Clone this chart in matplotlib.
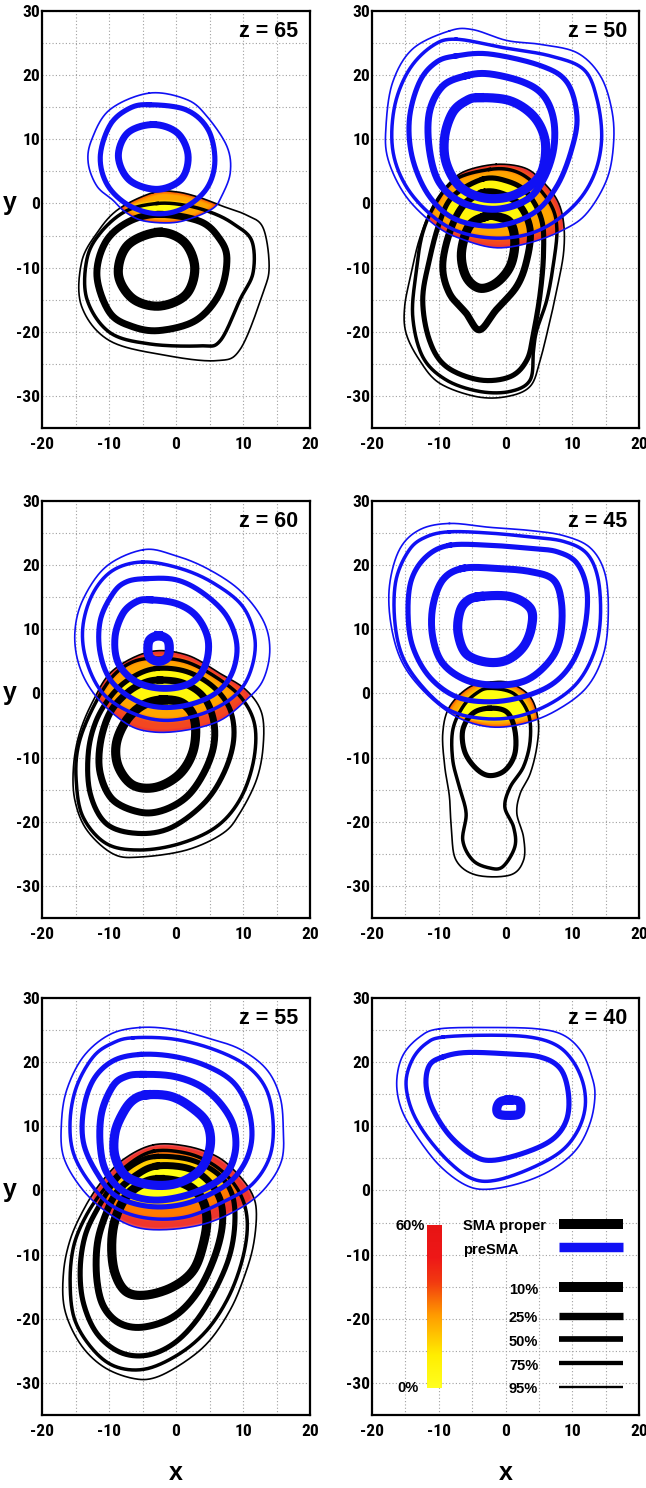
import numpy as np
import matplotlib
matplotlib.use("Agg")
import matplotlib.pyplot as plt
from matplotlib.path import Path
from matplotlib.colors import LinearSegmentedColormap
from matplotlib import font_manager, transforms

# ---------------------------------------------------------------- data
LEVELS = ["10%", "25%", "50%", "75%", "95%"]
PANEL_Z = [65, 50, 60, 45, 55, 40]
X_TICKS = [-20, -10, 0, 10, 20]
Y_TICKS = [30, 20, 10, 0, -10, -20, -30]
COLORBAR_LABELS = ["0%", "60%"]
SERIES_NAMES = ["SMA proper", "preSMA"]

# z = 65
Z65_BLUE_LEVELS = ["95%", "50%", "25%"]
Z65_BLUE = [
    [(-4, 17.2), (1.6, 16.2), (4.6, 13.6), (7.6, 8.9), (8.1, 4.8), (6.8, 1.1), (5.6, -0.7), (2.6, -2.2),
     (-0.6, -3.0), (-4.9, -2.7), (-7.6, -1.3), (-9.4, 0.5), (-11.8, 2.7), (-13.1, 6.3), (-12.6, 9.9), (-9.9, 14.6)],
    [(-4, 15.4), (1.5, 14.6), (4.8, 11.5), (5.8, 6.5), (4.5, 2.2), (1, -0.8), (-3, -1.6), (-7.2, -0.2),
     (-10.3, 3.0), (-11.3, 7.4), (-9.8, 12.3), (-7, 14.8)],
    [(-3.4, 12.3), (0.2, 11.0), (1.8, 7.5), (0.8, 3.8), (-2.8, 2.2), (-6.9, 3.6), (-8.6, 7.3), (-7.2, 11.0)],
]
Z65_BLACK_LEVELS = ["95%", "75%", "25%", "10%"]
Z65_BLACK = [
    [(-3.4, 1.7), (0.1, 1.8), (3.6, 0.9), (6.6, -0.3), (10.5, -1.8), (13, -3.8), (13.9, -9.7), (13, -13.9),
     (9.6, -22.7), (6.1, -24.5), (-1.4, -23.7), (-9.9, -21.4), (-14.1, -16), (-14.1, -9.2), (-11.8, -4.6), (-8.6, -0.9)],
    [(-2.8, 0.0), (1.5, -0.3), (5.5, -1.5), (8.6, -3.2), (11.3, -5.8), (11.5, -10.8), (9.6, -14.9), (6.6, -21.4),
     (3.6, -22.2), (-3.9, -21.9), (-9.9, -20.1), (-13.3, -14.9), (-13.3, -8.7), (-11.3, -4.6), (-7.5, -1.2)],
    [(-2.4, -1.7), (3.6, -2.8), (6.5, -5.5), (7.6, -8.7), (6.5, -14), (3, -18.2), (-2.4, -19.8), (-6.5, -19.2),
     (-9.9, -17), (-11.8, -11.3), (-10.5, -6), (-7, -2.8)],
    [(-2.6, -4.5), (1.2, -6), (2.8, -10), (1.5, -14.2), (-2.5, -16), (-6.5, -14.8), (-8.6, -11), (-7.2, -6.5)],
]

# z = 50
Z50_BLUE_LEVELS = ["95%", "75%", "50%", "25%", "10%"]
Z50_BLUE = [
    [(-8.4, 26.9), (-4.9, 27.1), (0.2, 25.4), (5.2, 24.8), (10.7, 23.5), (14.2, 19.9), (15.9, 14.7), (16.2, 9.5),
     (15.2, 3.8), (12.2, -1.5), (8.7, -4.1), (3.7, -6.1), (-1.4, -6.9), (-6.4, -5.6), (-10.4, -3.5), (-14.9, 1.1),
     (-17.6, 6.9), (-17.9, 12.1), (-16.9, 18.9), (-13.9, 24.1)],
    [(-7.4, 25.6), (-0.4, 24.3), (6.7, 23), (11.7, 20.9), (13.7, 16.3), (14.4, 10), (13.2, 4.3), (10.2, -0.4),
     (5.2, -4.1), (-0.4, -5.4), (-6.4, -4.6), (-10.9, -2), (-14.9, 2.7), (-16.9, 8.4), (-16.6, 15.2), (-14.4, 20.9),
     (-10.9, 24.6)],
    [(-7.4, 23), (-2.4, 23.3), (5.2, 21.5), (9.2, 18.9), (10.7, 13.6), (9.9, 8.4), (7.7, 2.7), (4.2, -1.5),
     (-1.4, -3.5), (-7.4, -2.5), (-11.4, 1.1), (-13.9, 6.9), (-14.4, 13.1), (-12.9, 18.9), (-10.4, 22)],
    [(-5.9, 19.9), (-2.4, 20.2), (2.7, 18.9), (5.7, 16.8), (7.2, 13.1), (7.2, 8.4), (5.7, 3.8), (3.2, 0.6),
     (-1.4, -0.9), (-6.4, 0.1), (-9.9, 3.2), (-11.4, 8.4), (-11.4, 14.2), (-9.4, 18.3)],
    [(-3.9, 16.5), (0.7, 16), (4.2, 13.6), (5.9, 10), (5.7, 5.8), (4.2, 3.2), (0.7, 1.1), (-3.4, 0.9),
     (-6.9, 2.7), (-8.9, 6.4), (-9.1, 10.5), (-7.9, 14.2), (-5.9, 16)],
]
Z50_BLACK_LEVELS = ["95%", "75%", "50%", "25%", "10%"]
Z50_BLACK = [
    [(-1.4, 6.1), (2.7, 5.6), (5.2, 3.8), (7.7, 0.6), (8.7, -3), (8.7, -7.7), (7.7, -13.4), (6.7, -18.1),
     (5.2, -24.4), (3.7, -28.5), (0.2, -30.1), (-4.4, -30.1), (-9.9, -28), (-12.9, -24.4), (-14.9, -20.2),
     (-15.1, -16), (-14.1, -10.8), (-12.9, -5.6), (-10.9, -0.4), (-8.4, 3.2), (-5.9, 5.1)],
    [(-2.4, 5.3), (1.2, 5.1), (4.2, 3.2), (6.9, -0.4), (7.7, -4.1), (7.2, -9.3), (6.2, -15), (4.7, -19.7),
     (4.2, -22.8), (3.7, -27.5), (0.7, -29.3), (-3.9, -29.3), (-8.9, -27.5), (-12.4, -23.9), (-13.9, -17.6),
     (-13.4, -10.8), (-12.4, -4.6), (-10.4, 0.1), (-7.4, 3.8)],
    [(-3.4, 3.8), (0.2, 3.5), (3.2, 1.7), (5.4, -2.5), (5.7, -7.7), (5.2, -14), (4.2, -20.2), (3.2, -24.4),
     (0.7, -27), (-3.9, -27.5), (-8.9, -25.4), (-11.4, -21.3), (-12.4, -15), (-11.4, -8.8), (-9.9, -3), (-7.9, 1.1)],
    [(-3.4, 1.7), (-0.4, 1.4), (2.2, -0.4), (3.7, -4.1), (3.2, -8.8), (1.7, -12.9), (-1.4, -16.6), (-3.9, -19.7),
     (-5.9, -17.1), (-8.4, -14), (-9.4, -9.8), (-8.4, -4.6), (-6.4, -0.4)],
    [(-2.9, -2), (-1.4, -2), (0.7, -3), (1.4, -6.1), (0.7, -9.8), (-1.4, -12.4), (-3.9, -13.2), (-5.9, -11.4),
     (-6.6, -7.7), (-5.4, -3.5)],
]

# z = 60
Z60_BLUE_LEVELS = ["95%", "75%", "50%", "25%", "10%"]
Z60_BLUE = [
    [(-4.9, 22.4), (-0.4, 21.6), (4.6, 19.5), (9.5, 16.1), (13, 11.4), (14, 6.8), (13, 2.1), (10.5, -1),
     (6.6, -4.2), (1.6, -5.7), (-3.4, -6), (-7.4, -4.7), (-11.9, -0.5), (-14.4, 4.2), (-15.1, 9.4), (-13.9, 14.6),
     (-10.4, 19.8)],
    [(-4.9, 20.5), (0.6, 19.5), (5.6, 17.2), (10, 13.5), (11.8, 8.3), (11, 3.1), (8.6, -0.5), (4.1, -3.1),
     (-1.4, -4.2), (-6.4, -3.1), (-10.9, 0), (-13.4, 5.2), (-13.9, 10.4), (-12.4, 15.6), (-9.4, 19.2)],
    [(-4.4, 17.9), (0.1, 17.7), (4.1, 15.6), (7.6, 12), (9.1, 7.3), (8.1, 2.6), (5.1, -0.5), (0.1, -2.1),
     (-4.9, -1.6), (-9.4, 1.6), (-11.3, 6.2), (-11.3, 11.4), (-9.4, 15.6), (-7.4, 17.4)],
    [(-3.9, 14.6), (0.1, 14), (3.1, 12), (4.8, 8.3), (4.3, 4.2), (2.1, 1.6), (-1.9, 0.8), (-5.9, 1.8),
     (-8.6, 4.7), (-9.1, 8.8), (-7.9, 12.5), (-5.9, 14.3)],
    [(-2.6, 9.0), (-1.3, 8.4), (-1.0, 7.0), (-1.3, 5.6), (-2.6, 5.0), (-3.9, 5.6), (-4.2, 7.0), (-3.9, 8.4)],
]
Z60_BLACK_LEVELS = ["95%", "75%", "50%", "25%", "10%"]
Z60_BLACK = [
    [(-3.9, 6.5), (1.6, 6), (6.6, 3.1), (10.5, 0.5), (12.8, -3.1), (13, -8.3), (12, -13.5), (9.5, -18.7),
     (7, -21.8), (1.6, -24.4), (-5.4, -25.5), (-9.4, -25), (-13.3, -21.3), (-15.1, -16.6), (-15.3, -11.4),
     (-14.4, -6.2), (-12.3, -1), (-9.4, 3.6)],
    [(-3.4, 5.5), (1.6, 4.9), (6.6, 2.1), (10, -1), (11.8, -5.2), (11.5, -10.9), (9.5, -16.6), (6, -20.8),
     (0.6, -23.4), (-5.4, -24.4), (-10.4, -23.4), (-13.9, -19.2), (-14.9, -13.5), (-14.6, -8.3), (-12.8, -3.1),
     (-9.9, 2.1), (-6.9, 4.7)],
    [(-2.9, 3.9), (1.6, 3.4), (5.6, 1), (8.1, -2.6), (8.6, -7.3), (7.1, -12.5), (4.1, -17.2), (-0.9, -21.0),
     (-5.9, -21.8), (-10.4, -20.3), (-12.8, -15.6), (-13.1, -9.4), (-11.9, -4.2), (-9.4, 0), (-6.4, 2.6)],
    [(-2.4, 2.1), (1.1, 1.6), (4.1, -0.5), (5.6, -4.2), (5.6, -8.3), (4.1, -12.5), (1.6, -16.1), (-1.9, -18.2),
     (-5.4, -18.5), (-9.4, -16.6), (-11.3, -12.5), (-11.3, -7.8), (-9.9, -3.1), (-7.4, 0), (-4.9, 1.6)],
    [(-1.9, -1), (1.1, -1.6), (2.8, -4.2), (2.6, -8.8), (0.6, -12.5), (-2.9, -14.6), (-6.4, -14.3), (-8.6, -11.4),
     (-8.9, -7.8), (-7.4, -4.2), (-4.9, -1.8)],
]

# z = 45
Z45_BLUE_LEVELS = ["95%", "75%", "50%", "25%", "10%"]
Z45_BLUE = [
    [(-8.4, 26.5), (-2.4, 25.9), (3.7, 25.4), (8.7, 24.6), (12.7, 22.7), (14.9, 18.7), (15.4, 12.5), (14.7, 6.2),
     (12.2, 1), (7.7, -2.6), (2.7, -4.7), (-2.4, -5.2), (-7.4, -3.6), (-11.9, 0), (-15.4, 4.7), (-17.1, 10.4),
     (-17.4, 16.6), (-15.9, 22.4), (-12.9, 25.5)],
    [(-8.4, 25.2), (-2.4, 25), (3.7, 24.4), (8.7, 23.7), (12.2, 21.8), (13.9, 17.7), (14.2, 11.4), (13.2, 6.2),
     (10.7, 1.6), (6.7, -1.6), (1.7, -3.6), (-3.4, -3.9), (-8.4, -2.6), (-12.4, 1), (-15.4, 5.7), (-16.6, 11.4),
     (-16.4, 17.7), (-14.4, 22.4), (-11.9, 24.4)],
    [(-8.4, 23.1), (-2.4, 23.1), (3.7, 22.6), (7.7, 22.1), (10.7, 20.3), (12.2, 16.1), (11.9, 10.4), (10.2, 5.2),
     (7.2, 1.6), (2.7, -0.5), (-2.4, -1.3), (-7.4, -0.5), (-11.4, 2.6), (-13.9, 7.3), (-14.6, 12.5), (-14.1, 17.7),
     (-11.9, 21.3)],
    [(-6.4, 19.5), (-1.4, 19.5), (3.7, 19), (7.2, 17.7), (8.4, 14), (8.2, 8.8), (6.7, 5.2), (3.2, 2.1),
     (-1.4, 1.3), (-5.9, 2.1), (-9.4, 4.7), (-10.9, 8.8), (-10.9, 13.5), (-9.4, 17.7)],
    [(-3.9, 15.1), (0.7, 15.1), (3.7, 13.3), (3.9, 10.4), (2.7, 7.3), (0.2, 5.2), (-2.9, 4.9), (-5.9, 6.2),
     (-7.1, 9.4), (-6.9, 12.5), (-5.9, 14.3)],
]
Z45_BLACK_LEVELS = ["95%", "75%", "50%"]
Z45_BLACK = [
    [(-2.1, 1.8), (0.7, 1.6), (3.7, -0.5), (4.9, -4.2), (4.7, -8.3), (3.7, -12.5), (2.2, -15.6), (1.7, -18.7),
     (2.7, -22.4), (2.7, -26), (0.7, -28.3), (-4.4, -28.3), (-7.4, -26), (-8.1, -21.3), (-8.4, -16.1),
     (-9.1, -11.4), (-9.4, -6.2), (-8.4, -2.1), (-5.4, 1)],
    [(-2.4, 0.8), (1.2, 0), (3.4, -3.1), (3.7, -7.3), (2.7, -11.4), (0.7, -14.6), (-0.1, -17.7), (1.2, -20.8),
     (1.4, -23.9), (-0.4, -27), (-2.4, -27.2), (-4.9, -26), (-6.4, -22.9), (-5.9, -18.7), (-6.9, -14.6),
     (-7.9, -10.4), (-7.9, -5.7), (-6.4, -2.1), (-4.4, 0)],
    [(-2.4, -2.3), (0.2, -2.9), (1.4, -5.7), (1.4, -9.4), (-0.1, -12), (-2.4, -12.8), (-4.4, -11.7),
     (-6.1, -9.1), (-6.4, -5.7), (-4.9, -3.1)],
]

# z = 55
Z55_BLUE_LEVELS = ["95%", "75%", "50%", "25%", "10%"]
Z55_BLUE = [
    [(-5.4, 25.4), (-0.4, 25.1), (4.6, 23.8), (9.6, 22), (13.5, 18.9), (15.5, 14.7), (16, 10), (15.8, 4.8),
     (13.5, 0.6), (10, -2.5), (4.6, -5.1), (-1.4, -6.1), (-6.4, -5.6), (-10.8, -3), (-14.3, 0.6), (-16.8, 5.3),
     (-17.1, 10.5), (-16.3, 15.7), (-13.8, 20.9), (-9.9, 24.3)],
    [(-6.4, 23.8), (-0.4, 23.6), (5.6, 22), (10.6, 19.4), (13.5, 15.7), (14.5, 10.5), (14, 5.3), (11.5, 1.1),
     (7.6, -1.5), (1.6, -4.1), (-4.4, -4.3), (-9.4, -2.5), (-12.8, 1.1), (-15.3, 5.8), (-15.8, 11), (-14.8, 16.3),
     (-12.3, 20.9), (-9.4, 23)],
    [(-5.4, 21.2), (-0.4, 20.9), (4.6, 19.4), (8.6, 16.8), (10.8, 12.6), (11.3, 7.9), (10, 3.8), (7.1, 0.6),
     (1.6, -2), (-3.9, -2.5), (-8.9, -0.9), (-11.8, 2.7), (-13.8, 7.4), (-13.8, 12.6), (-12.3, 17.3), (-9.4, 20.2)],
    [(-4.9, 18.1), (-0.4, 17.8), (3.6, 16.3), (6.6, 13.6), (8.6, 10), (8.8, 5.8), (7.1, 2.2), (2.6, -0.4),
     (-2.9, -1.5), (-7.4, -0.4), (-10.3, 2.7), (-11.3, 6.9), (-11.1, 12.1), (-9.4, 16.3), (-7.4, 17.8)],
    [(-4.4, 14.9), (-0.9, 14.7), (2.1, 13.1), (4.6, 10.5), (5.1, 6.9), (3.6, 3.2), (0.1, 1.1), (-3.9, 0.9),
     (-7.4, 2.2), (-9.1, 5.3), (-9.1, 9), (-7.9, 12.1), (-6.4, 14.1)],
]
Z55_BLACK_LEVELS = ["95%", "75%", "50%", "25%", "10%"]
Z55_BLACK = [
    [(-3.4, 7.1), (1.6, 6.9), (6.1, 5.3), (9.1, 2.7), (11.3, -0.4), (12, -3.5), (11.5, -8.8), (10, -14),
     (8.1, -18.6), (5.1, -23.3), (1.6, -26.5), (-2.9, -29.1), (-6.4, -29.3), (-10.8, -27.5), (-14.3, -23.9),
     (-16.6, -18.6), (-16.8, -12.9), (-15.8, -7.7), (-13.8, -3), (-11.3, 1.1), (-7.9, 4.8)],
    [(-3.4, 6.1), (1.6, 5.8), (5.6, 4), (8.6, 1.1), (10.3, -2.5), (10.6, -6.7), (9.6, -11.9), (7.6, -17.1),
     (4.6, -21.8), (0.6, -25.4), (-4.4, -27.8), (-8.9, -27.5), (-12.3, -24.9), (-15.1, -20.2), (-15.8, -14.5),
     (-15.3, -8.8), (-13.5, -4.1), (-10.8, 0.1), (-7.4, 3.8)],
    [(-2.9, 5.3), (2.1, 4.8), (6.1, 2.7), (8.3, -0.4), (8.8, -4.6), (8.1, -9.8), (6.1, -15), (3.1, -20.2),
     (-0.4, -23.9), (-4.4, -25.7), (-8.4, -25.2), (-11.8, -22.3), (-13.8, -17.6), (-14.3, -12.4), (-13.6, -7.2),
     (-11.8, -3), (-8.9, 1.7), (-5.9, 4.3)],
    [(-2.9, 3.8), (1.6, 3.5), (4.6, 1.7), (6.6, -1.5), (6.9, -5.6), (5.6, -10.8), (3.1, -16), (-0.4, -19.7),
     (-4.9, -21.3), (-8.4, -20.7), (-10.8, -18.1), (-11.8, -14), (-11.8, -8.8), (-10.8, -4.6), (-8.9, -0.4),
     (-5.9, 2.4)],
    [(-2.4, 1.7), (1.1, 1.1), (3.6, -0.9), (4.6, -4.1), (4.1, -8.2), (2.6, -12.4), (-0.4, -15), (-4.4, -16.3),
     (-7.4, -15.8), (-9.1, -12.9), (-9.6, -8.8), (-9.1, -4.6), (-7.4, -0.9), (-4.9, 1.1)],
]

# z = 40
Z40_BLUE_LEVELS = ["95%", "75%", "50%", "10%"]
Z40_BLUE = [
    [(-9.9, 25.2), (-2.4, 25.4), (4.7, 25.2), (8.7, 24.2), (11.4, 21.6), (12.9, 17.9), (13.4, 14.8), (12.7, 10.6),
     (10.7, 6.5), (7.2, 3.4), (2.7, 1.3), (-2.4, 0.2), (-5.9, 0.8), (-9.9, 3.9), (-13.4, 8.6), (-15.6, 12.7),
     (-16.3, 16.9), (-15.4, 21), (-12.9, 23.9)],
    [(-9.4, 23.9), (-2.4, 24.2), (3.7, 23.9), (7.7, 22.6), (10.2, 20), (11.7, 16.4), (11.9, 12.7), (10.7, 9.1),
     (8.2, 6), (3.7, 3.4), (-1.4, 1.6), (-4.9, 1.8), (-8.4, 4.4), (-11.9, 8.6), (-14.1, 12.7), (-14.9, 16.9),
     (-13.9, 20.5), (-11.9, 22.9)],
    [(-9.4, 20.8), (-5.9, 21.5), (0.2, 21.3), (5.2, 20.8), (8.2, 19), (9.4, 15.3), (9.2, 11.2), (7.2, 8.1),
     (3.2, 6), (-1.9, 4.7), (-4.9, 5.5), (-8.4, 8.6), (-10.9, 12.7), (-11.9, 16.4), (-11.4, 19.5)],
    [(0.5, 14.1), (2.0, 13.9), (2.3, 12.9), (2.0, 11.9), (0.5, 11.7), (-1.0, 11.9), (-1.3, 12.8), (-0.8, 13.8)],
]
Z40_BLACK_LEVELS = []
Z40_BLACK = []

PANEL_BLUE = [Z65_BLUE, Z50_BLUE, Z60_BLUE, Z45_BLUE, Z55_BLUE, Z40_BLUE]
PANEL_BLUE_LEVELS = [Z65_BLUE_LEVELS, Z50_BLUE_LEVELS, Z60_BLUE_LEVELS, Z45_BLUE_LEVELS, Z55_BLUE_LEVELS, Z40_BLUE_LEVELS]
PANEL_BLACK = [Z65_BLACK, Z50_BLACK, Z60_BLACK, Z45_BLACK, Z55_BLACK, Z40_BLACK]
PANEL_BLACK_LEVELS = [Z65_BLACK_LEVELS, Z50_BLACK_LEVELS, Z60_BLACK_LEVELS, Z45_BLACK_LEVELS, Z55_BLACK_LEVELS, Z40_BLACK_LEVELS]

# ---------------------------------------------------------------- style
LEVEL_WIDTH = {"10%": 6.6, "25%": 5.0, "50%": 3.7, "75%": 2.5, "95%": 1.2}
BLUE = "#1010f4"
BLACK = "#000000"

names = {f.name for f in font_manager.fontManager.ttflist}


def pick(cands, default="DejaVu Sans"):
    for c in cands:
        if c in names:
            return c
    return default


SANS = pick(["Liberation Sans", "Arimo", "Roboto", "Noto Sans"])
NARROW = pick(["Liberation Sans Narrow", "Arial Narrow", "Roboto Condensed", "Open Sans Condensed",
               "DejaVu Sans Condensed", "Noto Sans Condensed"], SANS)
NARROW_STRETCH = "normal"
if NARROW == SANS:
    for f in font_manager.fontManager.ttflist:
        if f.name == "DejaVu Sans" and "ondensed" in f.fname and "Bold" in f.fname:
            NARROW = "DejaVu Sans"
            NARROW_STRETCH = "condensed"
            break

plt.rcParams["axes.unicode_minus"] = False
plt.rcParams["font.family"] = [SANS, "DejaVu Sans"]

OVERLAP_CMAP = LinearSegmentedColormap.from_list(
    "ov", [(0.0, "#f4b4b4"), (0.18, "#ee3030"), (0.4, "#ff7a00"), (0.62, "#ffd800"), (0.78, "#ffff10"),
           (1.0, "#ffff10")])
BAR_CMAP = LinearSegmentedColormap.from_list(
    "bar", [(0.0, "#ffff20"), (0.2, "#ffee00"), (0.45, "#ff9a00"), (0.65, "#f23a10"), (0.8, "#ee1818"),
            (1.0, "#e81414")])


def smooth_closed(pts, n=24):
    P = np.asarray(pts, float)
    m = len(P)
    t = np.linspace(0, 1, n, endpoint=False)[:, None]
    segs = []
    for i in range(m):
        p0, p1, p2, p3 = P[(i - 1) % m], P[i], P[(i + 1) % m], P[(i + 2) % m]
        segs.append(0.5 * (2 * p1 + (-p0 + p2) * t + (2 * p0 - 5 * p1 + 4 * p2 - p3) * t ** 2
                           + (-p0 + 3 * p1 - 3 * p2 + p3) * t ** 3))
    out = np.vstack(segs)
    return np.vstack([out, out[:1]])


def blur1d(a, k, axis):
    ker = np.ones(k) / k
    return np.apply_along_axis(lambda v: np.convolve(v, ker, mode="same"), axis, a)


GX = np.linspace(-20, 20, 401)
GY = np.linspace(-35, 30, 651)
MX, MY = np.meshgrid(GX, GY)
GP = np.column_stack([MX.ravel(), MY.ravel()])


def depth(curves):
    d = np.zeros(MX.shape)
    for c in curves:
        d += Path(c).contains_points(GP).reshape(MX.shape)
    return d


fig = plt.figure(figsize=(6.46, 14.88), dpi=100)
W, H = 646.0, 1488.0
col_left = [42, 372]
col_width = [268, 267]
row_top = [11, 501, 998]
row_h = 417

for idx, z in enumerate(PANEL_Z):
    r, c = divmod(idx, 2)
    ax = fig.add_axes([col_left[c] / W, 1 - (row_top[r] + row_h) / H, col_width[c] / W, row_h / H])
    ax.set_xlim(-20, 20)
    ax.set_ylim(-35, 30)
    ax.set_xticks(X_TICKS)
    ax.set_yticks(Y_TICKS)
    ax.set_xticks(np.arange(-15, 20, 10), minor=True)
    ax.set_yticks(np.arange(25, -35, -10), minor=True)
    ax.tick_params(which="both", length=0)
    ax.tick_params(axis="y", pad=1.2)
    ax.tick_params(axis="x", pad=6.5)
    for lab in ax.get_xticklabels() + ax.get_yticklabels():
        lab.set_fontfamily(NARROW)
        lab.set_fontstretch(NARROW_STRETCH)
        lab.set_fontweight("bold")
        lab.set_fontsize(12.5)
    ax.grid(True, which="both", color="#a0a0a0", linestyle=(0, (1, 2)), linewidth=0.8)
    ax.set_axisbelow(True)
    for s in ax.spines.values():
        s.set_linewidth(1.6)

    blue_curves = [smooth_closed(p) for p in PANEL_BLUE[idx]]
    black_curves = [smooth_closed(p) for p in PANEL_BLACK[idx]]

    # overlap heat region
    if blue_curves and black_curves:
        db = depth(blue_curves)
        dk = depth(black_curves)
        m = np.minimum(db, dk)
        mask = m > 0
        if mask.any():
            v = m / m.max()
            v = blur1d(blur1d(v, 11, 0), 11, 1)
            rgba = OVERLAP_CMAP(np.clip(v, 0, 1))
            rgba[..., 3] = np.where(mask, 1.0, 0.0)
            ax.imshow(rgba, origin="lower", extent=(-20, 20, -35, 30), aspect="auto",
                      interpolation="bilinear", zorder=2)

    for crv, lev in zip(black_curves, PANEL_BLACK_LEVELS[idx]):
        ax.plot(crv[:, 0], crv[:, 1], color=BLACK, lw=LEVEL_WIDTH[lev], solid_joinstyle="round", zorder=3)
    for crv, lev in zip(blue_curves, PANEL_BLUE_LEVELS[idx]):
        ax.plot(crv[:, 0], crv[:, 1], color=BLUE, lw=LEVEL_WIDTH[lev], solid_joinstyle="round", zorder=4)

    ax.text(0.955, 0.95, f"z = {z}", transform=ax.transAxes, ha="right", va="center",
            fontsize=15.5, fontweight="bold", family=SANS, zorder=6)

    if c == 0:
        tr = transforms.blended_transform_factory(ax.transAxes, ax.transData)
        ax.text(-0.12, 0, "y", transform=tr, ha="center", va="center", fontsize=18,
                fontweight="bold", family=SANS)
    if r == 2:
        ax.text(0.5, -0.14, "x", transform=ax.transAxes, ha="center", va="center", fontsize=18,
                fontweight="bold", family=SANS)

    # legend inside the z = 40 panel
    if z == 40:
        grad = np.linspace(0, 1, 256)[:, None]
        ax.imshow(grad, cmap=BAR_CMAP, origin="lower", extent=(-11.7, -9.5, -30.8, -5.4),
                  aspect="auto", zorder=5)
        ax.text(-12.1, -5.6, "60%", ha="right", va="center", fontsize=10.5, fontweight="bold", zorder=6)
        ax.text(-13.0, -30.8, "0%", ha="right", va="center", fontsize=10.5, fontweight="bold", zorder=6)
        ax.text(-6.3, -5.6, SERIES_NAMES[0], ha="left", va="center", fontsize=10.5, fontweight="bold", zorder=6)
        ax.text(-6.3, -9.3, SERIES_NAMES[1], ha="left", va="center", fontsize=10.5, fontweight="bold", zorder=6)
        ax.plot([8.0, 17.6], [-5.3, -5.3], color=BLACK, lw=7.2, solid_capstyle="butt", zorder=5)
        ax.plot([8.0, 17.6], [-8.8, -8.8], color=BLUE, lw=6.8, solid_capstyle="butt", zorder=5)
        leg_y = [-15.1, -19.5, -23.2, -26.9, -30.6]
        leg_w = [7.2, 5.3, 4.1, 3.1, 1.7]
        for lev, yy, lw in zip(LEVELS, leg_y, leg_w):
            ax.plot([8.0, 17.6], [yy, yy], color=BLACK, lw=lw, solid_capstyle="butt", zorder=5)
            ax.text(4.9, yy - 0.4, lev, ha="right", va="center", fontsize=10.5, fontweight="bold", zorder=6)

fig.savefig("out.png", dpi=100)
